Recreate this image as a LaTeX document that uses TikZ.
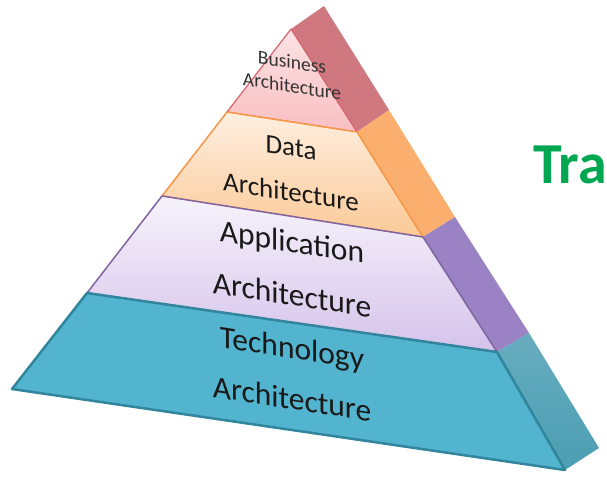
\documentclass[tikz,border=0pt]{standalone}
\usepackage{fontspec}
\setmainfont{Carlito}

\definecolor{bizface}{HTML}{F9BFC2}
\definecolor{bizside}{HTML}{D07880}
\definecolor{bizline}{HTML}{D6646C}
\definecolor{datface}{HTML}{FBC997}
\definecolor{datside}{HTML}{FBAF6E}
\definecolor{datline}{HTML}{F79646}
\definecolor{appface}{HTML}{D5C3EB}
\definecolor{appside}{HTML}{9B82C5}
\definecolor{appline}{HTML}{8064A2}
\definecolor{tecface}{HTML}{53B4CF}
\definecolor{tecside}{HTML}{4C9EB3}
\definecolor{tecline}{HTML}{31859C}
\definecolor{titlegreen}{HTML}{00A650}

\def\bizfront{(F0) -- (R1) -- (L1) -- cycle}
\def\bizright{(F0) -- (B0) -- (S1) -- (R1) -- cycle}
\def\datfront{(L1) -- (R1) -- (R2) -- (L2) -- cycle}
\def\datright{(R1) -- (S1) -- (S2) -- (R2) -- cycle}
\def\appfront{(L2) -- (R2) -- (R3) -- (L3) -- cycle}
\def\appright{(R2) -- (S2) -- (S3) -- (R3) -- cycle}
\def\tecfront{(L3) -- (R3) -- (R4) -- (L4) -- cycle}
\def\tecright{(R3) -- (S3) -- (S4) -- (R4) -- cycle}

\tikzset{
  layertext/.style={text=black!90, yslant=-0.155, inner sep=0pt, align=center},
}

\begin{document}
\begin{tikzpicture}[x=1pt,y=-1pt]
        \useasboundingbox (0,0) rectangle (607,477);
        % corners of the pyramid
        \coordinate (F0) at (291,29);  \coordinate (B0) at (324,6);
        \coordinate (L1) at (227,112); \coordinate (R1) at (357,132); \coordinate (S1) at (389,110);
        \coordinate (L2) at (162,196); \coordinate (R2) at (423,237); \coordinate (S2) at (455,217);
        \coordinate (L3) at (87,293);  \coordinate (R3) at (497,352); \coordinate (S3) at (529,333);
        \coordinate (L4) at (12,389);  \coordinate (R4) at (565,470); \coordinate (S4) at (599,448);

        % side faces
        \fill[bizside] \bizright;
        \fill[datside] \datright;
        \fill[appside] \appright;
        \shade[top color=tecside!85!white, bottom color=tecside] \tecright;

        % front faces, top to bottom
        \shade[top color=bizface!45!white, bottom color=bizface] \bizfront;
        \draw[bizline, line width=1.2pt, line join=round] \bizfront;
        \shade[top color=datface!30!white, bottom color=datface] \datfront;
        \draw[datline, line width=1.5pt, line join=round] \datfront;
        \shade[top color=appface!20!white, bottom color=appface] \appfront;
        \draw[appline, line width=1.5pt, line join=round] \appfront;
        \fill[tecface] \tecfront;
        \draw[tecline, line width=2.5pt, line join=round] \tecfront;

        % labels
        \node[layertext, text=black!80, font=\fontsize{19.5}{24}\selectfont] (biz) at (292,74) {Business\\Architecture};
        \node[layertext, font=\fontsize{27}{45}\selectfont] (dat) at (291,170) {Data\\Architecture};
        \node[layertext, font=\fontsize{31.5}{53}\selectfont] (app) at (292,268) {Application\\Architecture};
        \node[layertext, font=\fontsize{31.5}{51}\selectfont] (tec) at (292,373) {Technology\\Architecture};

        \node[anchor=base west, inner sep=0pt, text=titlegreen, font=\bfseries\fontsize{58}{60}\selectfont] (title) at (533,183) {Tra};
\end{tikzpicture}
\end{document}
